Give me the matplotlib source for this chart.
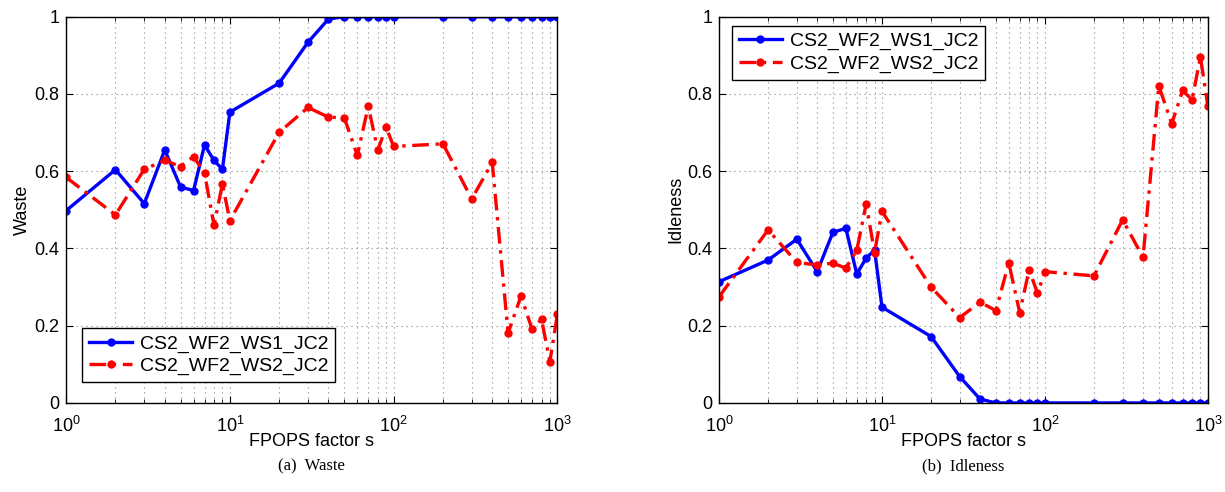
import matplotlib
matplotlib.use("Agg")
import matplotlib.pyplot as plt
from matplotlib.ticker import FixedLocator, LogLocator, NullFormatter

plt.rcParams["font.family"] = ["Liberation Sans", "DejaVu Sans"]
plt.rcParams["mathtext.fontset"] = "custom"
plt.rcParams["mathtext.rm"] = "Liberation Sans"
plt.rcParams["mathtext.it"] = "Liberation Sans:italic"

fpops = [1, 2, 3, 4, 5, 6, 7, 8, 9, 10, 20, 30, 40, 50, 60, 70, 80, 90,
         100, 200, 300, 400, 500, 600, 700, 800, 900, 1000]

waste_ws1 = [0.498, 0.604, 0.516, 0.655, 0.559, 0.550, 0.668, 0.628, 0.605,
             0.753, 0.828, 0.934, 0.994, 1.0, 1.0, 1.0, 1.0, 1.0,
             1.0, 1.0, 1.0, 1.0, 1.0, 1.0, 1.0, 1.0, 1.0, 1.0]
waste_ws2 = [0.584, 0.487, 0.605, 0.628, 0.612, 0.638, 0.595, 0.460, 0.567,
             0.472, 0.701, 0.765, 0.740, 0.738, 0.641, 0.768, 0.655, 0.714,
             0.664, 0.671, 0.528, 0.623, 0.181, 0.277, 0.191, 0.217, 0.107, 0.230]

idle_ws1 = [0.314, 0.370, 0.424, 0.340, 0.442, 0.452, 0.334, 0.375, 0.396,
            0.248, 0.172, 0.068, 0.010, 0.0, 0.0, 0.0, 0.0, 0.0,
            0.0, 0.0, 0.0, 0.0, 0.0, 0.0, 0.0, 0.0, 0.0, 0.0]
idle_ws2 = [0.275, 0.448, 0.364, 0.357, 0.362, 0.349, 0.395, 0.516, 0.389,
            0.496, 0.300, 0.221, 0.261, 0.239, 0.363, 0.234, 0.345, 0.284,
            0.340, 0.329, 0.474, 0.377, 0.821, 0.723, 0.809, 0.785, 0.896, 0.769]

labels = ["CS2_WF2_WS1_JC2", "CS2_WF2_WS2_JC2"]
yticks = [0, 0.2, 0.4, 0.6, 0.8, 1]
ytick_labels = ["0", "0.2", "0.4", "0.6", "0.8", "1"]

GRID = dict(linestyle=(0, (1, 3.5)), color="#888888", linewidth=0.8)


def draw(ax, ws1, ws2, ylabel, legend_loc, anchor):
    ax.plot(fpops, ws1, "-", color="#0000ff", linewidth=2.4,
            marker="o", markersize=5, label=labels[0])
    ax.plot(fpops, ws2, color="#ff0000", linewidth=2.4, dashes=(5, 2, 1, 2),
            marker="o", markersize=5, label=labels[1])
    ax.set_xscale("log")
    ax.set_xlim(1, 1000)
    ax.set_ylim(0, 1)
    ax.xaxis.set_major_locator(LogLocator(base=10, numticks=10))
    ax.xaxis.set_minor_locator(LogLocator(base=10, subs=range(2, 10), numticks=20))
    ax.xaxis.set_minor_formatter(NullFormatter())
    ax.yaxis.set_major_locator(FixedLocator(yticks))
    ax.set_yticklabels(ytick_labels)
    ax.grid(True, which="both", axis="x", **GRID)
    ax.grid(True, which="major", axis="y", **GRID)
    ax.tick_params(which="both", direction="in", top=True, right=True, labelsize=13)
    ax.tick_params(axis="x", which="major", pad=9)
    ax.tick_params(axis="y", which="major", pad=5)
    ax.tick_params(which="major", length=5)
    ax.tick_params(which="minor", length=3)
    ax.set_xlabel("FPOPS factor s", fontsize=13, labelpad=-2)
    ax.set_ylabel(ylabel, fontsize=13, labelpad=2)
    for s in ax.spines.values():
        s.set_linewidth(1.0)
    leg = ax.legend(loc=legend_loc, bbox_to_anchor=anchor, fontsize=14,
                    fancybox=False, framealpha=1, edgecolor="black",
                    borderaxespad=0, handlelength=2.2, handletextpad=0.4,
                    borderpad=0.35, labelspacing=0.25)
    leg.get_frame().set_linewidth(1.0)


fig = plt.figure(figsize=(12.25, 4.92), dpi=100)
ax1 = fig.add_axes([0.054, 0.181, 0.401, 0.785])
ax2 = fig.add_axes([0.587, 0.181, 0.399, 0.785])

draw(ax1, waste_ws1, waste_ws2, "Waste", "lower left", (0.033, 0.054))
draw(ax2, idle_ws1, idle_ws2, "Idleness", "upper left", (0.027, 0.977))

fig.text(0.254, 0.052, "(a)  Waste", ha="center", va="center",
         fontsize=12, family="Liberation Serif")
fig.text(0.786, 0.052, "(b)  Idleness", ha="center", va="center",
         fontsize=12, family="Liberation Serif")

fig.savefig("out.png", dpi=100)
